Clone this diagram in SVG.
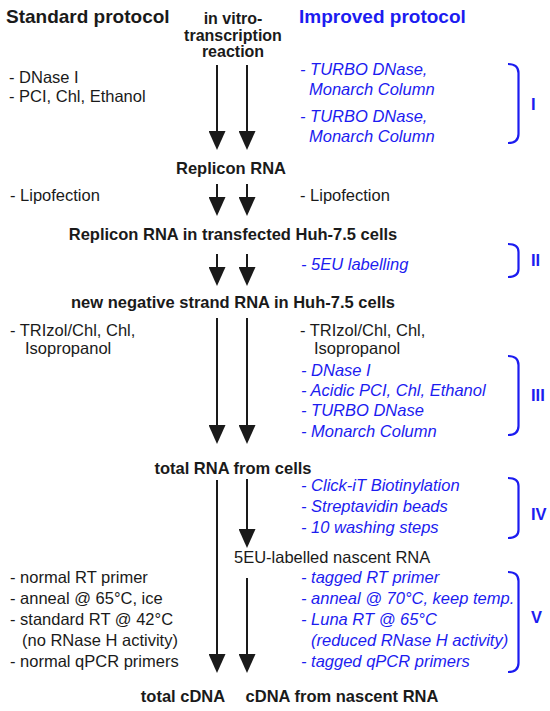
<svg xmlns="http://www.w3.org/2000/svg" width="550" height="711" viewBox="0 0 550 711">
<style>
text{font-family:"Liberation Sans",Arial,sans-serif;fill:#1a1a1a}
.title{font-size:19px;font-weight:bold}
.node{font-size:16.5px;font-weight:bold;text-anchor:middle}
.ivt{font-size:16px;font-weight:bold;text-anchor:middle}
.reg{font-size:16.5px}
.blue{fill:#1c1cf0}
.it{font-style:italic}
.lab{font-size:16.5px;font-weight:bold;fill:#1c1cf0}
.conn line{stroke:#1a1a1a;stroke-width:2;marker-end:url(#ah)}
.br{fill:none;stroke:#1c1cf0;stroke-width:2.2}
</style>
<defs>
<marker id="ah" markerUnits="userSpaceOnUse" viewBox="0 0 19 17" markerWidth="19" markerHeight="17" refX="9" refY="8.5" orient="auto">
<path d="M0,0 L19,8.5 L0,17 z" fill="#1a1a1a"/>
</marker>
</defs>
<g id="titles">
<text class="title" x="6" y="23">Standard protocol</text>
<text class="title blue" x="299" y="23">Improved protocol</text>
</g>
<g id="ivt">
<text class="ivt" x="233" y="24">in vitro-</text>
<text class="ivt" x="233" y="40.5">transcription</text>
<text class="ivt" x="233" y="57">reaction</text>
</g>
<g id="replicon">
<text class="node" x="231" y="174">Replicon RNA</text>
</g>
<g id="transfected">
<text class="node" x="233" y="240">Replicon RNA in transfected Huh-7.5 cells</text>
</g>
<g id="negstrand">
<text class="node" x="233" y="308">new negative strand RNA in Huh-7.5 cells</text>
</g>
<g id="totalrna">
<text class="node" x="233" y="474">total RNA from cells</text>
</g>
<g id="nascent">
<text class="reg" x="234" y="563">5EU-labelled nascent RNA</text>
</g>
<g id="totalcdna">
<text class="node" x="183" y="702">total cDNA</text>
</g>
<g id="nascentcdna">
<text class="node" x="342" y="702">cDNA from nascent RNA</text>
</g>
<g id="std-steps">
<text class="reg" x="9" y="83">- DNase I</text>
<text class="reg" x="9" y="102">- PCI, Chl, Ethanol</text>
<text class="reg" x="10" y="201">- Lipofection</text>
<text class="reg" x="10" y="336">- TRIzol/Chl, Chl,</text>
<text class="reg" x="25" y="354">Isopropanol</text>
<text class="reg" x="10" y="583">- normal RT primer</text>
<text class="reg" x="10" y="604">- anneal @ 65°C, ice</text>
<text class="reg" x="10" y="625">- standard RT @ 42°C</text>
<text class="reg" x="22" y="646">(no RNase H activity)</text>
<text class="reg" x="10" y="667">- normal qPCR primers</text>
</g>
<g id="imp-steps">
<text class="reg blue it" x="300" y="75">- TURBO DNase,</text>
<text class="reg blue it" x="309" y="95">Monarch Column</text>
<text class="reg blue it" x="300" y="122">- TURBO DNase,</text>
<text class="reg blue it" x="309" y="142">Monarch Column</text>
<text class="reg" x="300" y="201">- Lipofection</text>
<text class="reg blue it" x="301" y="270">- 5EU labelling</text>
<text class="reg" x="300" y="336">- TRIzol/Chl, Chl,</text>
<text class="reg" x="314" y="354">Isopropanol</text>
<text class="reg blue it" x="301" y="376">- DNase I</text>
<text class="reg blue it" x="301" y="396">- Acidic PCI, Chl, Ethanol</text>
<text class="reg blue it" x="301" y="416">- TURBO DNase</text>
<text class="reg blue it" x="301" y="437">- Monarch Column</text>
<text class="reg blue it" x="301" y="491">- Click-iT Biotinylation</text>
<text class="reg blue it" x="301" y="512">- Streptavidin beads</text>
<text class="reg blue it" x="301" y="533">- 10 washing steps</text>
<text class="reg blue it" x="301" y="583">- tagged RT primer</text>
<text class="reg blue it" x="301" y="604">- anneal @ 70°C, keep temp.</text>
<text class="reg blue it" x="301" y="625">- Luna RT @ 65°C</text>
<text class="reg blue it" x="311" y="646">(reduced RNase H activity)</text>
<text class="reg blue it" x="301" y="667">- tagged qPCR primers</text>
</g>
<g id="step-I">
<path class="br" d="M508,64 Q518.5,64 518.5,73 L518.5,134 Q518.5,143 508,143"/>
<text class="lab" x="531" y="110">I</text>
</g>
<g id="step-II">
<path class="br" d="M508,244 Q518.5,244 518.5,252 L518.5,269 Q518.5,277 508,277"/>
<text class="lab" x="531" y="266">II</text>
</g>
<g id="step-III">
<path class="br" d="M508,356 Q518.5,356 518.5,365 L518.5,426 Q518.5,435 508,435"/>
<text class="lab" x="531" y="401">III</text>
</g>
<g id="step-IV">
<path class="br" d="M508,478 Q518.5,478 518.5,486 L518.5,530 Q518.5,538 508,538"/>
<text class="lab" x="531" y="520">IV</text>
</g>
<g id="step-V">
<path class="br" d="M508,572 Q518.5,572 518.5,581 L518.5,663 Q518.5,672 508,672"/>
<text class="lab" x="531" y="623">V</text>
</g>
<g id="connectors" class="conn">
<line x1="217" y1="65" x2="217" y2="140"/>
<line x1="247" y1="65" x2="247" y2="140"/>
<line x1="217" y1="184" x2="217" y2="206"/>
<line x1="247" y1="184" x2="247" y2="206"/>
<line x1="217" y1="254" x2="217" y2="276"/>
<line x1="247" y1="254" x2="247" y2="276"/>
<line x1="217" y1="318" x2="217" y2="434"/>
<line x1="247" y1="318" x2="247" y2="434"/>
<line x1="217" y1="480" x2="217" y2="663"/>
<line x1="247" y1="479" x2="247" y2="538"/>
<line x1="247" y1="578" x2="247" y2="663"/>
</g>
</svg>
